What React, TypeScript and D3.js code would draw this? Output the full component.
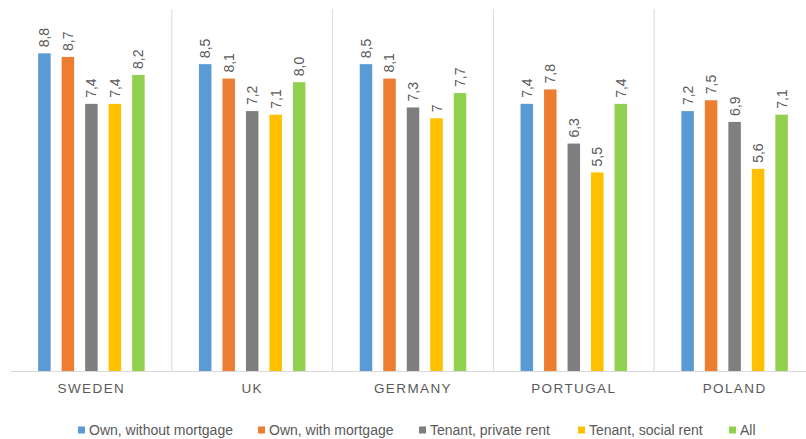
import React from "react";
import * as d3 from "d3";

const categories = ["SWEDEN", "UK", "GERMANY", "PORTUGAL", "POLAND"];
const seriesNames = [
  "Own, without mortgage",
  "Own, with mortgage",
  "Tenant, private rent",
  "Tenant, social rent",
  "All",
];
const seriesColors = ["#5B9BD5", "#ED7D31", "#7F7F7F", "#FFC000", "#92D050"];
const ownNoMortgage = [8.8, 8.5, 8.5, 7.4, 7.2];
const ownMortgage = [8.7, 8.1, 8.1, 7.8, 7.5];
const tenantPrivate = [7.4, 7.2, 7.3, 6.3, 6.9];
const tenantSocial = [7.4, 7.1, 7.0, 5.5, 5.6];
const allValues = [8.2, 8.0, 7.7, 7.4, 7.1];
const ownNoMortgageLabels = ["8,8", "8,5", "8,5", "7,4", "7,2"];
const ownMortgageLabels = ["8,7", "8,1", "8,1", "7,8", "7,5"];
const tenantPrivateLabels = ["7,4", "7,2", "7,3", "6,3", "6,9"];
const tenantSocialLabels = ["7,4", "7,1", "7", "5,5", "5,6"];
const allLabels = ["8,2", "8,0", "7,7", "7,4", "7,1"];

const seriesValues = [ownNoMortgage, ownMortgage, tenantPrivate, tenantSocial, allValues];
const seriesLabels = [ownNoMortgageLabels, ownMortgageLabels, tenantPrivateLabels, tenantSocialLabels, allLabels];

const W = 806;
const H = 439;
const left = 11;
const right = 815;
const top = 10;
const bottom = 371;
const textColor = "#595959";
const gridColor = "#D9D9D9";
const font = "'Liberation Sans', Arial, sans-serif";

const legendX = [78, 258, 419, 578, 729];

export default function App() {
  const x0 = d3.scaleBand<string>().domain(categories).range([left, right]).padding(0);
  const x1 = d3
    .scaleBand<string>()
    .domain(seriesNames)
    .range([0, x0.bandwidth()])
    .paddingInner(0.468)
    .paddingOuter(1.155);
  const y = d3.scaleLinear().domain([0, 10]).range([bottom, top]);

  return (
    <svg
      width={W}
      height={H}
      style={{ position: "absolute", left: 0, top: 0, background: "#fff" }}
      fontFamily={font}
    >
      {categories.slice(1).map((c) => (
        <line
          key={c}
          x1={x0(c)!}
          x2={x0(c)!}
          y1={top - 1}
          y2={bottom}
          stroke={gridColor}
          strokeWidth={1}
        />
      ))}
      {categories.map((c, ci) => (
        <g key={c} transform={`translate(${x0(c)},0)`}>
          {seriesNames.map((s, si) => {
            const v = seriesValues[si][ci];
            const bx = x1(s)!;
            const bw = x1.bandwidth();
            const cx = bx + bw / 2;
            return (
              <g key={s}>
                <rect x={bx} y={y(v)} width={bw} height={bottom - y(v)} fill={seriesColors[si]} />
                <text
                  transform={`translate(${cx},${y(v) - 6}) rotate(-90)`}
                  textAnchor="start"
                  dominantBaseline="central"
                  fontSize={14}
                  fill={textColor}
                >
                  {seriesLabels[si][ci]}
                </text>
              </g>
            );
          })}
          <text
            x={x0.bandwidth() / 2}
            y={388}
            textAnchor="middle"
            dominantBaseline="central"
            fontSize={13.5}
            letterSpacing={1.4}
            fill={textColor}
          >
            {c}
          </text>
        </g>
      ))}
      <line x1={left} x2={right} y1={bottom + 0.5} y2={bottom + 0.5} stroke={gridColor} strokeWidth={1} />
      {seriesNames.map((s, si) => (
        <g key={s} transform={`translate(${legendX[si]},430)`}>
          <rect x={0} y={-3.5} width={7} height={7} fill={seriesColors[si]} />
          <text x={11} y={0} dominantBaseline="central" fontSize={14} fill={textColor}>
            {s}
          </text>
        </g>
      ))}
    </svg>
  );
}
